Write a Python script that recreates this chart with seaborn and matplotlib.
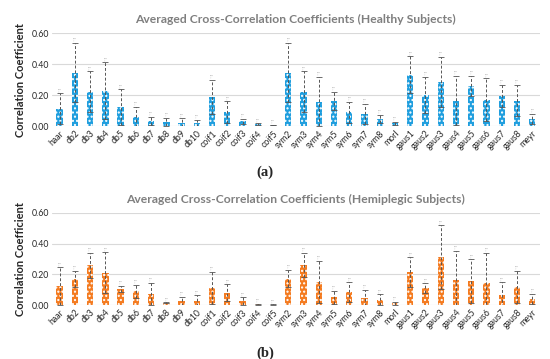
import pandas as pd
import matplotlib.pyplot as plt
import numpy as np
import seaborn as sns

# wavelet names on the x axis
wavelets = ['haar', 'db2', 'db3', 'db4', 'db5', 'db6', 'db7', 'db8', 'db9', 'db10',
            'coif1', 'coif2', 'coif3', 'coif4', 'coif5',
            'sym2', 'sym3', 'sym4', 'sym5', 'sym6', 'sym7', 'sym8', 'morl',
            'gaus1', 'gaus2', 'gaus3', 'gaus4', 'gaus5', 'gaus6', 'gaus7', 'gaus8', 'meyr']

# healthy subjects: mean and top of error bar
healthy_mean = [0.112, 0.345, 0.222, 0.229, 0.123, 0.060, 0.032, 0.028, 0.022, 0.017,
                0.188, 0.090, 0.030, 0.013, 0.006,
                0.345, 0.220, 0.158, 0.164, 0.089, 0.078, 0.045, 0.017,
                0.330, 0.200, 0.285, 0.164, 0.260, 0.170, 0.194, 0.164, 0.045]
healthy_top = [0.210, 0.535, 0.352, 0.410, 0.237, 0.125, 0.060, 0.054, 0.050, 0.040,
               0.300, 0.160, 0.048, 0.018, 0.008,
               0.535, 0.352, 0.315, 0.222, 0.156, 0.143, 0.071, 0.028,
               0.450, 0.315, 0.445, 0.324, 0.324, 0.307, 0.266, 0.266, 0.078]

# hemiplegic subjects
hemi_mean = [0.125, 0.173, 0.259, 0.212, 0.104, 0.091, 0.073, 0.017, 0.024, 0.030,
             0.114, 0.080, 0.024, 0.006, 0.004,
             0.173, 0.261, 0.151, 0.050, 0.086, 0.047, 0.035, 0.011,
             0.214, 0.112, 0.311, 0.162, 0.157, 0.142, 0.067, 0.121, 0.039]
hemi_top = [0.246, 0.225, 0.341, 0.343, 0.125, 0.134, 0.147, 0.019, 0.056, 0.063,
            0.218, 0.136, 0.050, 0.008, 0.006,
            0.231, 0.341, 0.287, 0.095, 0.149, 0.099, 0.071, 0.022,
            0.311, 0.142, 0.518, 0.354, 0.298, 0.341, 0.149, 0.225, 0.073]

sns.set_style('white')
plt.rcParams['font.family'] = ['Lato', 'DejaVu Sans']
plt.rcParams['hatch.linewidth'] = 1.0

fig = plt.figure(figsize=(5.5, 3.59), dpi=100)
ax_a = fig.add_axes([0.0945, 0.649, 0.887, 0.259])
ax_b = fig.add_axes([0.0945, 0.150, 0.887, 0.257])

panels = [
    (ax_a, healthy_mean, healthy_top, '#1f9ede', 'Averaged Cross-Correlation Coefficients (Healthy Subjects)'),
    (ax_b, hemi_mean, hemi_top, '#f47b20', 'Averaged Cross-Correlation Coefficients (Hemiplegic Subjects)'),
]

for ax, mean, top, color, title in panels:
    df = pd.DataFrame({'wavelet': wavelets, 'value': mean})
    err = np.array(top) - np.array(mean)
    sns.barplot(data=df, x='wavelet', y='value', color=color, width=0.42,
                saturation=1, ax=ax, zorder=2)
    for p in ax.patches:
        p.set_hatch('....')
        p.set_edgecolor('white')
        p.set_linewidth(0)
    eb = ax.errorbar(np.arange(len(wavelets)), mean, yerr=err, fmt='none',
                     ecolor='#555555', elinewidth=0.7, capsize=2, capthick=0.6, zorder=3)
    eb[2][0].set_linestyle((0, (3, 2)))
    # tiny markers above the caps
    for i, t in enumerate(top):
        ax.text(i, t + 0.008, '*,*', fontsize=2.5, color='#777777', ha='center', va='bottom')

    ax.set_ylim(0, 0.6)
    ax.set_xlim(-0.5, len(wavelets) - 0.5)
    ax.set_yticks([0, 0.2, 0.4, 0.6])
    ax.set_yticklabels(['0.00', '0.20', '0.40', '0.60'], fontsize=6.3)
    ax.yaxis.grid(True, color='#d9d9d9', linewidth=0.8, zorder=0)
    ax.set_axisbelow(True)
    for s in ax.spines.values():
        s.set_visible(False)
    ax.tick_params(axis='both', length=0, pad=2)
    ax.tick_params(axis='x', labelsize=6.3, labelrotation=45)
    for lab in ax.get_xticklabels():
        lab.set_ha('right')
        lab.set_rotation_mode('anchor')
    ax.set_xlabel('')
    ax.set_ylabel('Correlation Coefficient', fontsize=8, fontweight='bold')
    ax.set_title(title, fontsize=8.7, fontweight='bold', color='#7f7f7f', pad=7)

fig.text(0.482, 0.51, '(a)', fontsize=10.5, fontweight='bold', family='Liberation Serif', ha='center')
fig.text(0.482, 0.005, '(b)', fontsize=10.5, fontweight='bold', family='Liberation Serif', ha='center')

fig.savefig('out.png', dpi=100)
